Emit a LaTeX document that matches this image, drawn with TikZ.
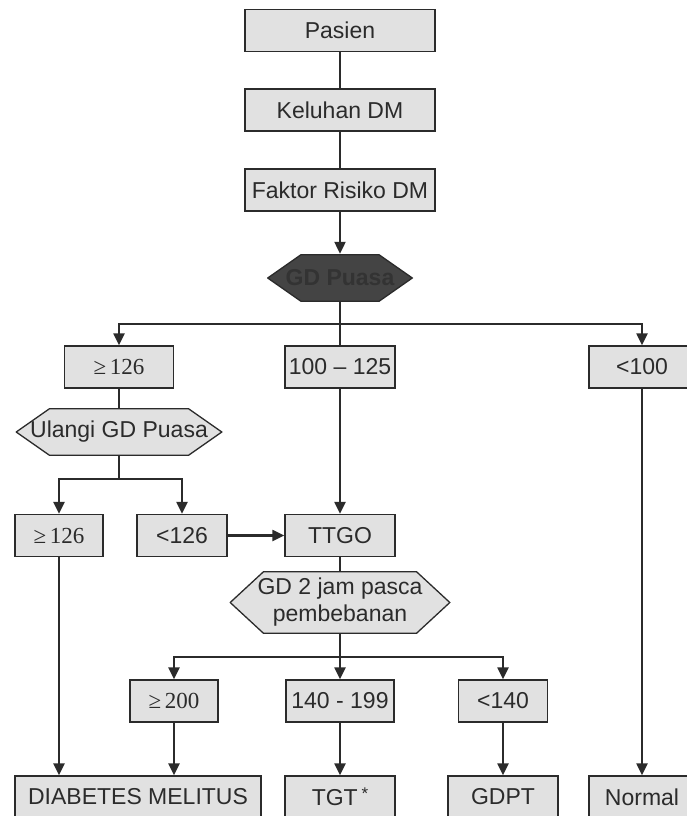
\documentclass[tikz,border=0pt]{standalone}
\usepackage{fontspec}
\setmainfont{Liberation Sans}
\newfontfamily\timesnum{Liberation Serif}
\usetikzlibrary{arrows.meta, positioning, calc}

\definecolor{boxgray}{HTML}{E1E1E1}
\definecolor{darkhex}{HTML}{444444}
\definecolor{inkgray}{HTML}{2B2B2B}
\def\hexd{34pt}

\tikzset{
  box/.style={draw=inkgray, line width=1.3pt, fill=boxgray, text=inkgray,
    minimum height=42pt, inner sep=0pt, font=\fontsize{23}{27}\selectfont},
  hexbox/.style={text=inkgray, inner sep=0pt, align=center,
    font=\fontsize{23}{27}\selectfont,
    path picture={\filldraw[fill=#1, draw=inkgray, line width=1.3pt]
      ([shift={(\hexd,-0.7pt)}]path picture bounding box.north west)
      -- ([shift={(-\hexd,-0.7pt)}]path picture bounding box.north east)
      -- ([xshift=-0.7pt]path picture bounding box.east)
      -- ([shift={(-\hexd,0.7pt)}]path picture bounding box.south east)
      -- ([shift={(\hexd,0.7pt)}]path picture bounding box.south west)
      -- ([xshift=0.7pt]path picture bounding box.west) -- cycle;}},
  link/.style={draw=inkgray, line width=2.2pt},
  arr/.style={link, -{Triangle[length=12pt,width=11pt]}}
}

\begin{document}
\begin{tikzpicture}[x=1pt, y=-1pt]
\useasboundingbox (0,0) rectangle (687,816);

% Main column
\node[box, minimum width=190pt] (pasien) at (340,30.5) {Pasien};
\node[box, minimum width=190pt] (keluhan) at (340,110) {Keluhan DM};
\node[box, minimum width=190pt] (faktor) at (340,190) {Faktor Risiko DM};
\node[hexbox=darkhex, minimum width=146pt, minimum height=48pt,
  text=black!80, font=\fontsize{23}{27}\selectfont\bfseries] (gdp) at (340,278) {GD Puasa};

% First split
\coordinate (split1) at (340,324);
\node[box, minimum width=109pt] (ge126a) at (119,367) {\timesnum ≥\,126};
\node[box, minimum width=110pt] (r100) at (340,367) {100 – 125};
\node[box, minimum width=106pt] (lt100) at (642,367) {<100};

% Repeat test
\node[hexbox=boxgray, minimum width=207pt, minimum height=48pt] (ulangi) at (119,432) {Ulangi GD Puasa};
\coordinate (split2) at (119,479);
\node[box, minimum width=88pt] (ge126b) at (59,535.5) {\timesnum ≥\,126};
\node[box, minimum width=90pt] (lt126) at (182,535.5) {<126};
\node[box, minimum width=110pt] (ttgo) at (340,535.5) {TTGO};

% Load test
\node[hexbox=boxgray, minimum width=221pt, minimum height=63pt] (gd2) at (340,602.5) {GD 2 jam pasca\\pembebanan};
\coordinate (split3) at (340,657);
\node[box, minimum width=88pt] (ge200) at (174,701) {\timesnum ≥\,200};
\node[box, minimum width=108pt] (r140) at (340,701) {140 - 199};
\node[box, minimum width=89pt] (lt140) at (503,701) {<140};

% Results
\node[box, minimum width=246pt] (dm) at (138,797) {DIABETES MELITUS};
\node[box, minimum width=110pt] (tgt) at (340,797) {TGT\,\raisebox{6pt}{\fontsize{17}{17}\selectfont *}};
\node[box, minimum width=110pt] (gdpt) at (503,797) {GDPT};
\node[box, minimum width=106pt] (normal) at (642,797) {Normal};

% Connectors
\draw[link] (pasien) -- (keluhan);
\draw[link] (keluhan) -- (faktor);
\draw[arr] (faktor) -- (gdp);
\draw[link] (gdp) -- (r100);
\draw[arr] (split1) -| (ge126a.north);
\draw[arr] (split1) -| (lt100.north);
\draw[link] (ge126a) -- (ulangi);
\draw[link] (ulangi) -- (split2);
\draw[arr] (split2) -| (ge126b.north);
\draw[arr] (split2) -| (lt126.north);
\draw[arr] (r100) -- (ttgo);
\draw[arr] (lt126) -- (ttgo);
\draw[link] (ttgo) -- (gd2);
\draw[link] (gd2) -- (split3);
\draw[arr] (split3) -| (ge200.north);
\draw[arr] (split3) -- (r140);
\draw[arr] (split3) -| (lt140.north);
\draw[arr] (ge126b) -- (ge126b.south |- dm.north);
\draw[arr] (ge200) -- (ge200.south |- dm.north);
\draw[arr] (r140) -- (tgt);
\draw[arr] (lt140) -- (gdpt);
\draw[arr] (lt100) -- (normal);
\end{tikzpicture}
\end{document}
